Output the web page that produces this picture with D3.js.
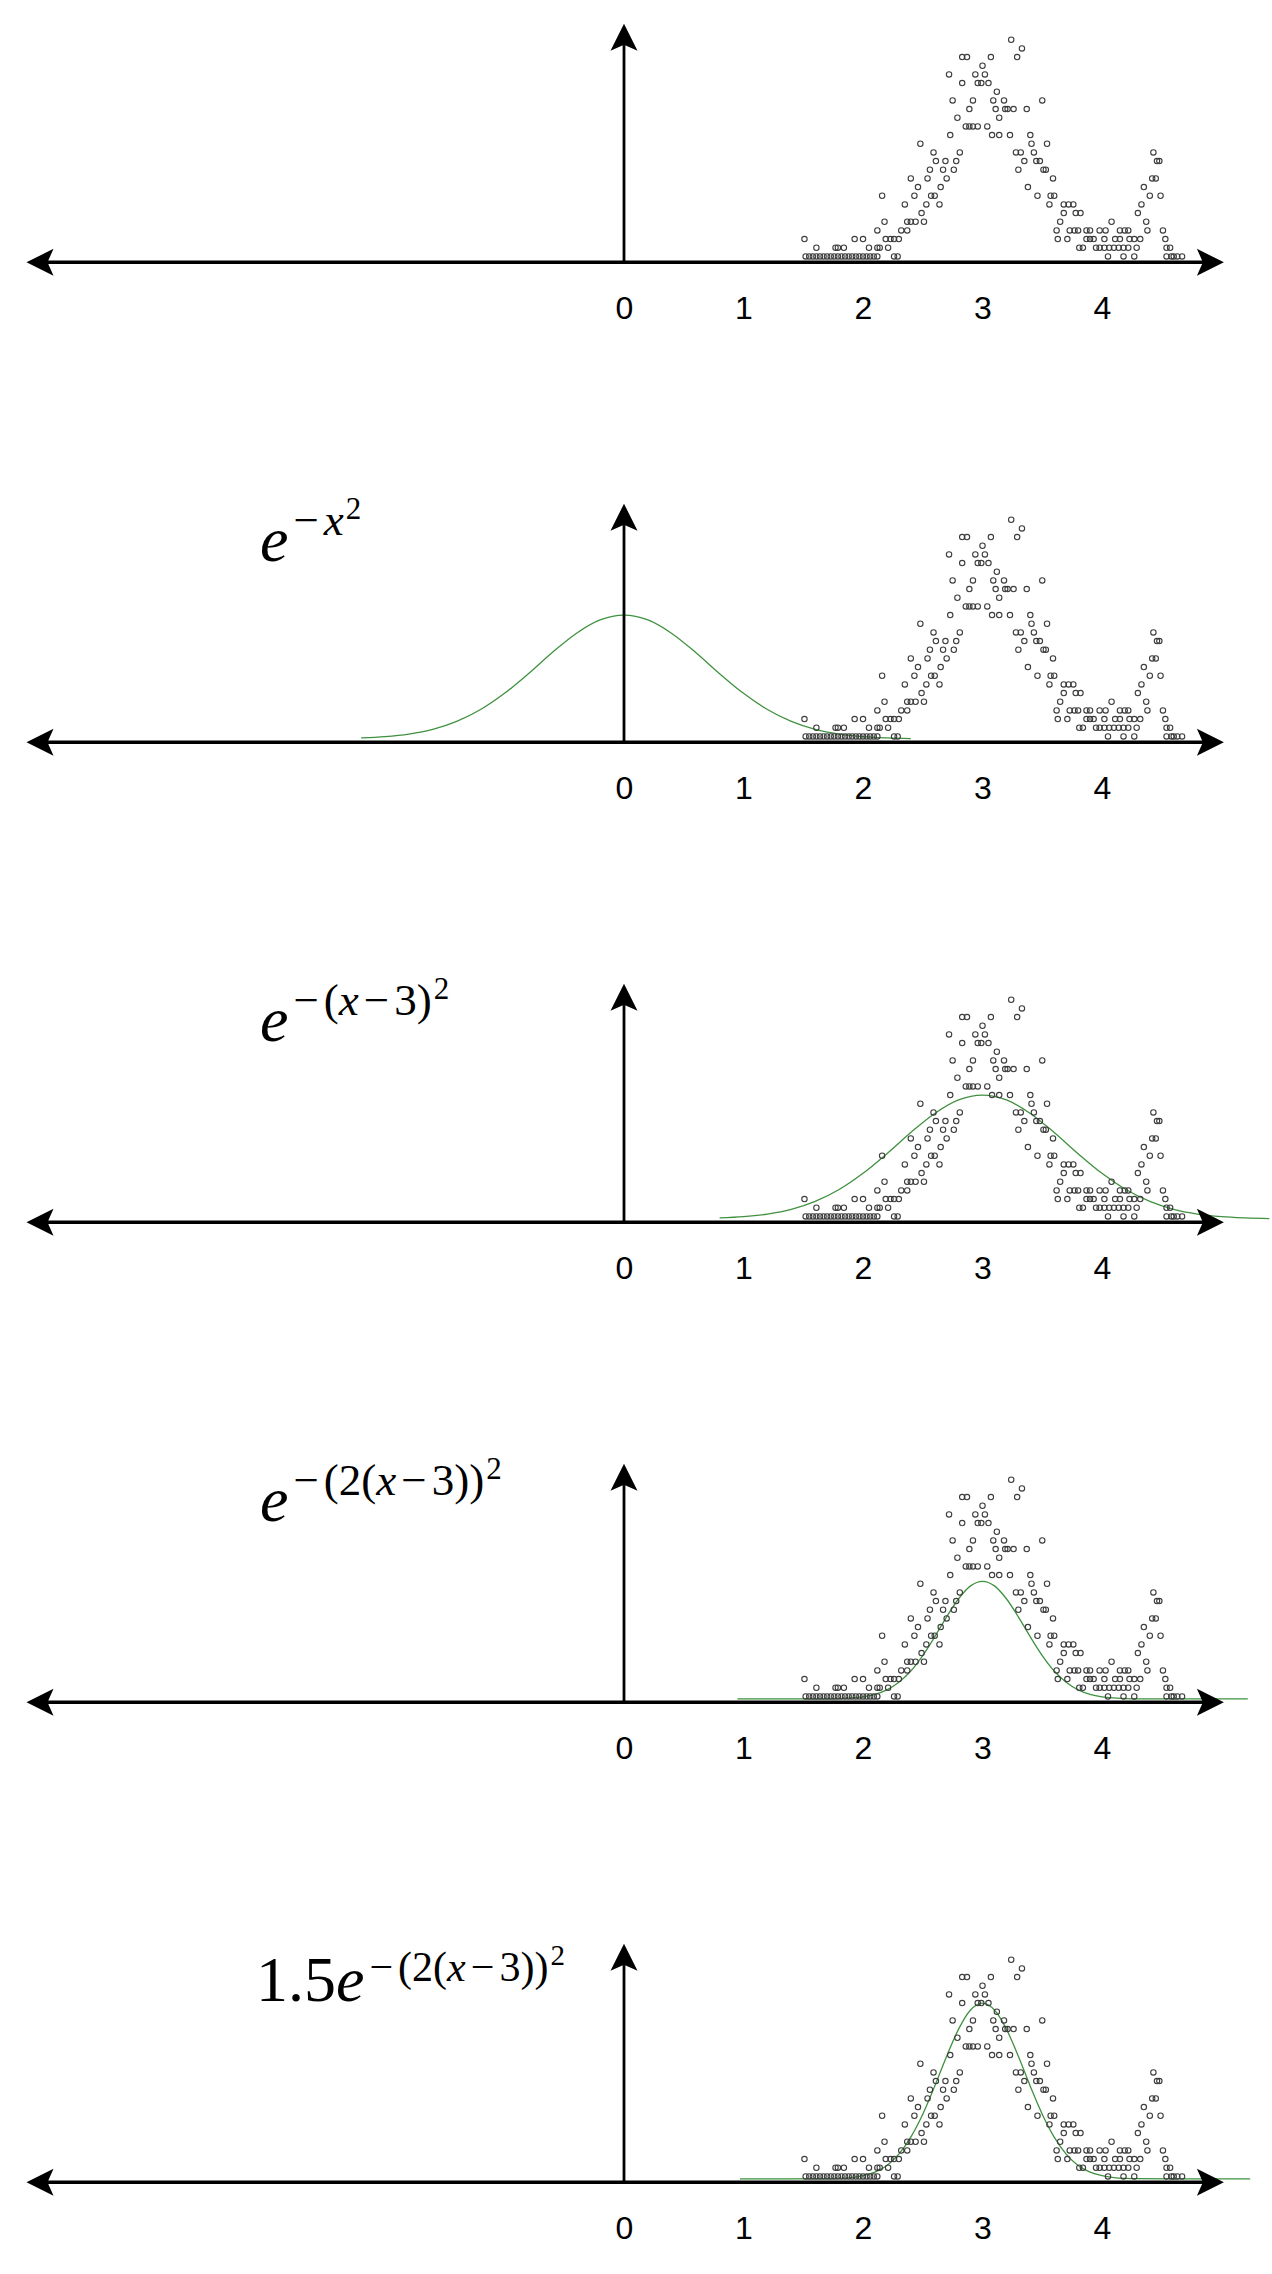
<!DOCTYPE html>
<html><head><meta charset="utf-8">
<script src="https://cdn.jsdelivr.net/npm/d3@7"></script>
<style>body{margin:0;background:#fff}</style>
</head><body>
<svg id="c" width="1272" height="2274"></svg>
<script>
// ---------- data ----------
const xTicks = [0, 1, 2, 3, 4];

// scatter: y levels and x positions on each level
const dotLevels = [0.02,0.09,0.16,0.23,0.30,0.37,0.44,0.51,0.58,0.65,0.72,0.79,0.86,0.93,1.00,1.07,1.14,1.21,1.28,1.35,1.42,1.49,1.56,1.63,1.70,1.77];
const dotRows = [
  [1.52,1.55,1.58,1.61,1.64,1.67,1.70,1.73,1.76,1.79,1.82,1.85,1.88,1.91,1.94,1.97,2.00,2.03,2.06,2.09,2.12,2.26,2.29,4.05,4.18,4.27,4.54,4.58,4.60,4.63,4.67],
  [1.61,1.77,1.79,1.84,2.05,2.12,2.14,2.21,3.81,3.84,3.95,3.98,4.02,4.06,4.10,4.14,4.18,4.22,4.29,4.54,4.57],
  [1.51,1.93,2.00,2.19,2.23,2.26,2.30,3.63,3.71,3.87,3.90,3.93,4.02,4.11,4.15,4.23,4.27,4.32,4.53],
  [2.12,2.32,2.37,3.62,3.73,3.77,3.80,3.87,3.90,3.98,4.03,4.15,4.19,4.22,4.38,4.51],
  [2.18,2.37,2.40,2.44,2.51,3.65,4.08,4.37],
  [2.49,3.68,3.78,3.82,4.30],
  [2.35,2.53,2.64,3.56,3.68,3.72,3.76,4.33],
  [2.16,2.43,2.57,2.60,3.46,3.57,3.60,4.40,4.49],
  [2.46,2.65,3.38,4.35],
  [2.40,2.54,2.70,3.59,4.42,4.45],
  [2.56,2.67,2.76,3.30,3.51,3.53],
  [2.61,2.69,2.78,3.35,3.45,3.48,4.46,4.48],
  [2.59,2.81,3.28,3.32,3.43,4.43],
  [2.48,3.41,3.54],
  [2.73,3.08,3.14,3.23,3.40],
  [2.86,2.89,2.92,2.96,3.04],
  [2.79,3.14],
  [2.89,3.11,3.19,3.21,3.26,3.37],
  [2.75,2.92,3.09,3.18,3.50],
  [3.12],
  [2.83,2.96,2.99,3.05],
  [2.72,2.94,3.02],
  [3.00],
  [2.83,2.87,3.07,3.29],
  [3.33],
  [3.24]
];

// fitted curves
const gaussX = [-2.2,-2.0,-1.8,-1.6,-1.4,-1.2,-1.0,-0.8,-0.6,-0.4,-0.2,0,0.2,0.4,0.6,0.8,1.0,1.2,1.4,1.6,1.8,2.0,2.2,2.4];
const gaussY = [0.008,0.018,0.039,0.077,0.141,0.237,0.368,0.527,0.698,0.852,0.961,1,0.961,0.852,0.698,0.527,0.368,0.237,0.141,0.077,0.039,0.018,0.008,0.003];
const shiftX = [0.8,1.0,1.2,1.4,1.6,1.8,2.0,2.2,2.4,2.6,2.8,3.0,3.2,3.4,3.6,3.8,4.0,4.2,4.4,4.6,4.8,5.0,5.2,5.4];
const shiftY = [0.008,0.018,0.039,0.077,0.141,0.237,0.368,0.527,0.698,0.852,0.961,1,0.961,0.852,0.698,0.527,0.368,0.237,0.141,0.077,0.039,0.018,0.008,0.003];
const narrowX = [0.95,1.4,1.7,1.8,1.9,2.0,2.1,2.2,2.3,2.4,2.5,2.6,2.7,2.8,2.9,3.0,3.1,3.2,3.3,3.4,3.5,3.6,3.7,3.8,3.9,4.0,4.1,4.2,4.3,4.6,5.22];
const narrowY = [0,0,0.001,0.003,0.0075,0.017,0.037,0.073,0.134,0.225,0.35,0.501,0.663,0.809,0.913,0.95,0.913,0.809,0.663,0.501,0.35,0.225,0.134,0.073,0.037,0.017,0.0075,0.003,0.001,0,0];
const scaledX = [0.97,1.4,1.7,1.8,1.9,2.0,2.1,2.2,2.3,2.4,2.5,2.6,2.7,2.8,2.9,3.0,3.1,3.2,3.3,3.4,3.5,3.6,3.7,3.8,3.9,4.0,4.1,4.2,4.3,4.6,5.24];
const scaledY = [0,0,0.0016,0.0045,0.011,0.026,0.055,0.109,0.2,0.337,0.522,0.748,0.991,1.21,1.364,1.42,1.364,1.21,0.991,0.748,0.522,0.337,0.2,0.109,0.055,0.026,0.011,0.0045,0.0016,0,0];

const curveXs = [null, gaussX, shiftX, narrowX, scaledX];
const curveYs = [null, gaussY, shiftY, narrowY, scaledY];

// formula labels: [text, level, italic]
const formulas = [
  null,
  [["e",0,1],["−",1,0],["x",1,1],["2",2,0]],
  [["e",0,1],["−",1,0],["(",1,0],["x",1,1],["−",1,0],["3)",1,0],["2",2,0]],
  [["e",0,1],["−",1,0],["(2(",1,0],["x",1,1],["−",1,0],["3))",1,0],["2",2,0]],
  [["1.5",0,0],["e",0,1],["−",1,0],["(2(",1,0],["x",1,1],["−",1,0],["3))",1,0],["2",2,0]]
];

// ---------- drawing ----------
const W = 1272, H = 2274;
const svg = d3.select("#c");
svg.append("rect").attr("width", W).attr("height", H).attr("fill", "#fff");

const x = d3.scaleLinear().domain([0, 4]).range([624, 1102]);
const firstAxis = 262.3, gap = 480, zeroLift = 3.4, unitPx = 123.8;
const points = dotRows.flatMap((xs, i) => xs.map(v => ({x: v, y: dotLevels[i]})));

function arrowHead(g, tx, ty, angle) {
  const L = 27, hw = 13.5, n = 6;
  g.append("path")
    .attr("d", `M0,0 L${-L},${-hw} L${-L + n},0 L${-L},${hw} Z`)
    .attr("transform", `translate(${tx},${ty}) rotate(${angle})`)
    .attr("fill", "#000");
}

for (let i = 0; i < 5; i++) {
  const ay = firstAxis + i * gap;
  const y = d3.scaleLinear().domain([0, 1]).range([ay - zeroLift, ay - zeroLift - unitPx]);
  const g = svg.append("g");

  // fitted curve
  if (curveXs[i]) {
    const cd = curveXs[i].map((v, k) => [v, curveYs[i][k]]);
    g.append("path")
      .datum(cd)
      .attr("fill", "none")
      .attr("stroke", "#3f913f")
      .attr("stroke-width", 1.3)
      .attr("d", d3.line().x(d => x(d[0])).y(d => y(d[1])).curve(d3.curveMonotoneX));
  }

  // x axis line + arrows
  const xl = x(-5), xr = x(5.02);
  g.append("line").attr("x1", xl + 10).attr("x2", xr - 10).attr("y1", ay).attr("y2", ay)
    .attr("stroke", "#000").attr("stroke-width", 3.6);
  arrowHead(g, xr, ay, 0);
  arrowHead(g, xl, ay, 180);

  // y axis line + arrow
  const yt = y(1.9);
  g.append("line").attr("x1", x(0)).attr("x2", x(0)).attr("y1", ay).attr("y2", yt + 10)
    .attr("stroke", "#000").attr("stroke-width", 2.8);
  arrowHead(g, x(0), yt, -90);

  // tick labels
  const ax = g.append("g").attr("transform", `translate(0,${ay})`)
    .call(d3.axisBottom(x).tickValues(xTicks).tickSize(0).tickPadding(34).tickFormat(d3.format("d")));
  ax.select(".domain").remove();
  ax.selectAll("text").attr("font-family", "'Liberation Sans', Arial, Helvetica, sans-serif")
    .attr("font-size", 32).attr("fill", "#000");

  // scatter
  g.append("g").selectAll("circle").data(points).join("circle")
    .attr("cx", d => x(d.x)).attr("cy", d => y(d.y)).attr("r", 2.7)
    .attr("fill", "none").attr("stroke", "#3c3c3c").attr("stroke-width", 1.1);

  // formula
  if (formulas[i]) {
    const sizes = i === 4 ? [64, 42, 29] : [64, 45, 31];
    const rises = i === 4 ? [0, 20, 36] : [0, 26, 42];
    const t = g.append("text")
      .attr("x", i === 4 ? 256 : 260).attr("y", ay - 181)
      .attr("font-family", "'Liberation Serif', 'Times New Roman', serif")
      .attr("fill", "#000");
    let prevRise = 0, prevTxt = "";
    formulas[i].forEach(([txt, lvl, it]) => {
      const ts = t.append("tspan")
        .attr("font-size", sizes[lvl])
        .attr("font-style", it ? "italic" : "normal")
        .attr("dy", -(rises[lvl] - prevRise))
        .text(txt);
      let dx = 0;
      if (txt === "−") dx = 5;
      else if (prevTxt === "−") dx = 5;
      else if (lvl === 2) dx = 2;
      if (dx) ts.attr("dx", dx);
      prevRise = rises[lvl];
      prevTxt = txt;
    });
  }
}
</script>
</body></html>
